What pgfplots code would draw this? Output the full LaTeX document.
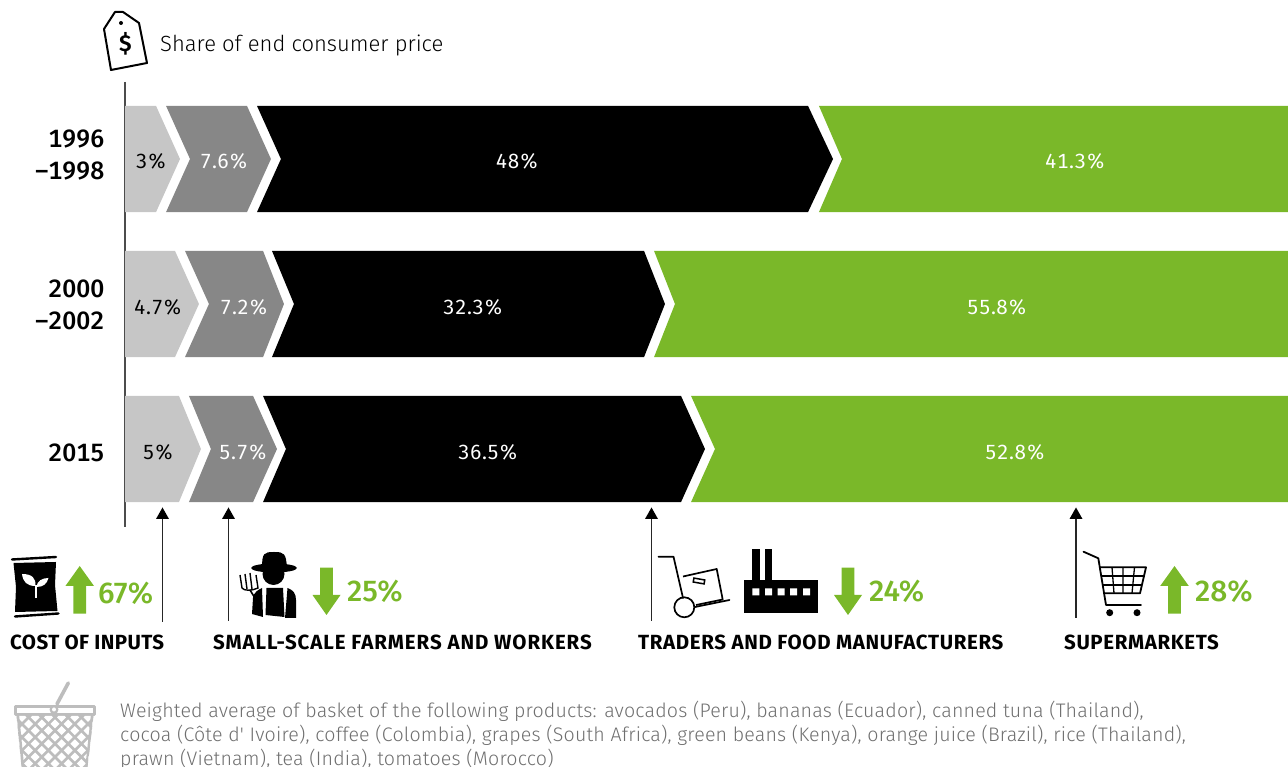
\documentclass[border=0pt]{standalone}
\usepackage{fontspec}
\usepackage{pgfplots}
\pgfplotsset{compat=1.18}
\setmainfont{Fira Sans}[UprightFont={* Light},BoldFont={* SemiBold}]
\newfontfamily\medfont{Fira Sans}[UprightFont={* Medium},Numbers=Tabular]
\newfontfamily\pctfont{Fira Sans}[UprightFont={* Medium}]
\newfontfamily\lblfont{Fira Sans}[Numbers=Tabular,LetterSpace=2.5]
\newfontfamily\footfont{Fira Sans}[UprightFont={* Light},LetterSpace=0.95]
\newfontfamily\catfont{Fira Sans}[UprightFont={* Bold}]
\definecolor{segA}{HTML}{C6C6C6}
\definecolor{segB}{HTML}{878787}
\definecolor{segD}{HTML}{7AB829}
\definecolor{basket}{HTML}{BDBDBD}
\definecolor{foot}{HTML}{6F6F6F}
\newcommand{\fs}[1]{\fontsize{#1}{#1}\selectfont}
\newcommand{\uparr}[1]{\fill[segD] (#1-14.3,586)--(#1,566)--(#1+14.3,586)--(#1+6.3,586)--(#1+6.3,613.7)--(#1-6.3,613.7)--(#1-6.3,586)--cycle;}
\newcommand{\downarr}[1]{\fill[segD] (#1-14,595)--(#1,615)--(#1+14,595)--(#1+6.3,595)--(#1+6.3,567.7)--(#1-6.3,567.7)--(#1-6.3,595)--cycle;}
\newcommand{\leader}[2]{\draw[line width=1.1pt,black!85] (#1,#2)--(#1,516);\fill[black] (#1-6.5,519)--(#1,507.5)--(#1+6.5,519)--cycle;}
\newcommand{\cat}[4]{\node[anchor=base west,inner sep=0pt] at (#1,#2) {\catfont\addfontfeature{LetterSpace=#3}\fs{20.5}#4};}
\newcommand{\pct}[3]{\node[anchor=base west,inner sep=0pt,text=segD] at (#1,#2) {\pctfont\fs{30}#3};}
\begin{document}
\begin{tikzpicture}
\useasboundingbox (0,0) rectangle (1288pt,767pt);
\begin{axis}[
    at={(125pt,240pt)}, anchor=south west,
    scale only axis, width=1163pt, height=445pt,
    xmin=0, xmax=100, ymin=-0.531, ymax=2.538,
    y dir=reverse,
    axis x line=none, axis y line=left,
    y axis line style={-,line width=1.1pt,color=black!70},
    ytick={-0.028,1.005,2.025},
    yticklabels={{1996\\–1998},{2000\\–2002},{2015}},
    yticklabel style={align=right,font=\medfont\fontsize{25}{32}\selectfont,inner sep=0pt,xshift=-20.5pt},
    major tick length=0pt,
    no markers, clip=false,
]
% 1996-1998
\addplot[fill=segA,draw=none] coordinates {(0,-0.366) (2.67,-0.366) (4.73,0) (2.67,0.366) (0,0.366)} -- cycle;
\addplot[fill=segB,draw=none] coordinates {(3.53,-0.366) (10.49,-0.366) (12.55,0) (10.49,0.366) (3.53,0.366) (5.59,0)} -- cycle;
\addplot[fill=black,draw=none] coordinates {(11.35,-0.366) (58.73,-0.366) (60.88,0) (58.73,0.366) (11.35,0.366) (13.41,0)} -- cycle;
\addplot[fill=segD,draw=none] coordinates {(59.67,-0.366) (100,-0.366) (100,0.366) (59.67,0.366) (61.65,0)} -- cycle;
% 2000-2002
\addplot[fill=segA,draw=none] coordinates {(0,0.634) (4.30,0.634) (6.36,1) (4.30,1.366) (0,1.366)} -- cycle;
\addplot[fill=segB,draw=none] coordinates {(5.16,0.634) (11.87,0.634) (13.67,1) (11.87,1.366) (5.16,1.366) (7.22,1)} -- cycle;
\addplot[fill=black,draw=none] coordinates {(12.64,0.634) (44.63,0.634) (46.43,1) (44.63,1.366) (12.64,1.366) (14.53,1)} -- cycle;
\addplot[fill=segD,draw=none] coordinates {(45.49,0.634) (100,0.634) (100,1.366) (45.49,1.366) (47.29,1)} -- cycle;
% 2015
\addplot[fill=segA,draw=none] coordinates {(0,1.634) (4.64,1.634) (6.53,2) (4.64,2.366) (0,2.366)} -- cycle;
\addplot[fill=segB,draw=none] coordinates {(5.50,1.634) (11.01,1.634) (13.07,2) (11.01,2.366) (5.50,2.366) (7.39,2)} -- cycle;
\addplot[fill=black,draw=none] coordinates {(11.87,1.634) (47.81,1.634) (49.87,2) (47.81,2.366) (11.87,2.366) (13.84,2)} -- cycle;
\addplot[fill=segD,draw=none] coordinates {(48.67,1.634) (100,1.634) (100,2.366) (48.67,2.366) (50.73,2)} -- cycle;
% share labels
\begin{scope}[every node/.style={font=\lblfont\fs{20.5},inner sep=0pt}]
\node[black] at (axis cs:2.24,0.015) {3\%};
\node[white] at (axis cs:8.51,0.015) {7.6\%};
\node[white] at (axis cs:33.71,0.015) {48\%};
\node[white] at (axis cs:81.69,0.015) {41.3\%};
\node[black] at (axis cs:2.84,1.02) {4.7\%};
\node[white] at (axis cs:10.23,1.02) {7.2\%};
\node[white] at (axis cs:29.92,1.02) {32.3\%};
\node[white] at (axis cs:74.98,1.02) {55.8\%};
\node[black] at (axis cs:2.84,2.02) {5\%};
\node[white] at (axis cs:10.15,2.02) {5.7\%};
\node[white] at (axis cs:31.21,2.02) {36.5\%};
\node[white] at (axis cs:76.53,2.02) {52.8\%};
\end{scope}
\end{axis}
% annotations, coordinates in image pixels from the top
\begin{scope}[x=1pt,y=-1pt,shift={(0,767pt)}]
% price tag
\draw[line width=2pt,line join=round] (115,12)--(123,12)--(139,23)--(147,63)--(111,70)--(104,29)--cycle;
\fill (121,23) circle (2);
\node[anchor=base,inner sep=0pt,font=\bfseries\fs{23}] at (125.5,52) {\$};
\node[anchor=base west,inner sep=0pt,font=\fs{22}] at (160,51.8) {Share of end consumer price};
% leaders
\leader{162.5}{622}
\leader{228.5}{621}
\leader{651.5}{621}
\leader{1076}{618}
% seed bag
\fill (13.5,563)--(56,562)--(55,585)--(57.5,611)--(15,612)--(16,587)--cycle;
\draw[line width=2.4pt,line cap=round] (12,559.5)--(56,557);
\draw[line width=2.4pt,line cap=round] (15,616.5)--(58.5,613.5);
\draw[white,line width=2.6pt] (36,598)--(36,585);
\fill[white] (22,574) .. controls (32,574) and (36,578) .. (35.5,586) .. controls (27,586) and (23,582) .. (22,574)--cycle;
\fill[white] (48.5,578) .. controls (42,578) and (37,581) .. (36.5,587) .. controls (43,587) and (47,584) .. (48.5,578)--cycle;
\uparr{79.7}
\pct{98}{604}{67\%}
% farmer
\fill (262,568) .. controls (262,553) and (264,552) .. (274,552) .. controls (284,552) and (286,553) .. (287,568)--cycle;
\fill (274,568) ellipse (23 and 4.5);
\fill (273.5,574) circle (11);
\fill (252,614)--(253,598) .. controls (254,592) and (258,590) .. (262,588)--(263,617)--cycle;
\fill (266.5,588)--(283,588)--(284.5,617)--(265.5,615)--cycle;
\fill (287.5,588) .. controls (293,590) and (296,593) .. (296,600)--(296,618)--(285,618)--cycle;
\draw[line width=1.4pt] (240,575)--(242,588) .. controls (244,591) and (252,591) .. (258,588)--(256,575);
\draw[line width=1.4pt] (245,574)--(247,589) (250,573)--(252,589);
\draw[line width=1.6pt] (250,590)--(258,603);
\downarr{326.5}
\pct{347}{602}{25\%}
% hand truck
\draw[line width=1.7pt,line cap=round,line join=round] (658.5,556.7)--(673.5,556.7)--(683,598);
\draw[line width=1.7pt] (684.3,607.3) circle (10);
\draw[line width=1.7pt,line cap=round] (695,607)--(729.5,600);
\draw[line width=1.7pt,line join=round] (683,576.5)--(716.7,569)--(722.7,599.5)--(696,605);
\draw[line width=1.5pt,rotate around={-10:(699,581)}] (693.5,579) rectangle (704.5,583);
% factory
\fill (744,580) rectangle (818.3,613.3);
\fill (752.3,549.3) rectangle (759.7,580);
\fill (765,549.3) rectangle (772.3,580);
\fill[white] (752.3,588.3) rectangle ++(7,7) (765,588.3) rectangle ++(7,7) (777.7,588.3) rectangle ++(7,7) (790,588.3) rectangle ++(7,7) (803,588.3) rectangle ++(7,7);
\downarr{848}
\pct{869}{602}{24\%}
% cart
\draw[line width=1.8pt,line cap=round,line join=round] (1083.5,551.7)--(1098.3,558.3)--(1106,605)--(1141,605);
\draw[line width=1.8pt,line join=round] (1099.5,567.3)--(1146,567.3)--(1140,593.3)--(1103.8,593.3);
\draw[line width=1.3pt] (1101.5,576)--(1144,576) (1103,585)--(1142,585);
\draw[line width=1.3pt] (1112,567.3)--(1114,593.3) (1123,567.3)--(1123,593.3) (1134.5,567.3)--(1132,593.3);
\fill (1109.7,612.7) circle (3.5) (1137,612.7) circle (3.5);
\uparr{1174.5}
\pct{1195}{602}{28\%}
% categories
\cat{10}{650}{2}{COST OF INPUTS}
\cat{213}{650}{4.5}{SMALL-SCALE FARMERS AND WORKERS}
\cat{638}{650}{3.1}{TRADERS AND FOOD MANUFACTURERS}
\cat{1064}{650}{3}{SUPERMARKETS}
% basket
\draw[basket,line width=3.6pt,line cap=round] (68.3,683)--(57,704);
\draw[basket,line width=3pt,line join=round] (15.5,707) rectangle (94.5,715);
\fill[basket] (54,709.5) circle (4.5);
\fill[white] (54,709.5) circle (2);
\begin{scope}
\clip (16.5,716)--(93.5,716)--(87.5,767)--(21.5,767)--cycle;
\fill[basket] (10,716) rectangle (100,767);
\foreach \i in {-6,...,6}{\foreach \j in {-6,...,6}{
  \fill[white] ({55+(\i+\j)*6.6},{724+(\i-\j)*6.6}) ++(-4.5,0)--++(4.5,-4.5)--++(4.5,4.5)--++(-4.5,4.5)--cycle;
}}
\draw[basket,line width=2.4pt] (18,716)--(23,767) (92,716)--(86.5,767);
\end{scope}
% footnote
\begin{scope}[every node/.style={anchor=base west,inner sep=0pt,text=foot,font=\footfont\fs{19.6}}]
\node at (120,718) {Weighted average of basket of the following products: avocados (Peru), bananas (Ecuador), canned tuna (Thailand),};
\node at (120,742) {cocoa (Côte d' Ivoire), coffee (Colombia), grapes (South Africa), green beans (Kenya), orange juice (Brazil), rice (Thailand),};
\node at (120,766) {prawn (Vietnam), tea (India), tomatoes (Morocco)};
\end{scope}
\end{scope}
\end{tikzpicture}
\end{document}
